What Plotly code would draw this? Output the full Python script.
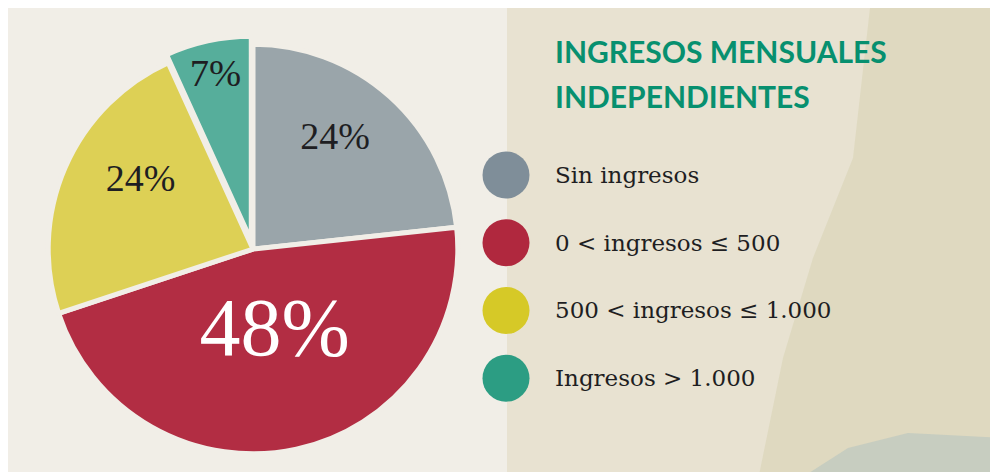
import plotly.graph_objects as go

categories = ["Sin ingresos", "0 < ingresos ≤ 500", "500 < ingresos ≤ 1.000", "Ingresos > 1.000"]
values = [24, 48, 24, 7]
labels_text = ["24%", "48%", "24%", "7%"]
pie_colors = ["#9aa5aa", "#b22d43", "#ddd055", "#56ae9b"]
legend_colors = ["#7f8e99", "#b0283e", "#d6c927", "#2c9d83"]
title_lines = ["INGRESOS MENSUALES", "INDEPENDIENTES"]

W, H = 998, 472
BG = "#f1eee7"
fig = go.Figure()

# label glyph sizes and line-box sizes (the empty second line lifts each label a little)
label_sizes = [38, 82, 38, 40]
line_sizes = [40, 48, 40, 12]
templates = [
    f"<span style='font-size:{s}px'>%{{text}}</span><br><span style='font-size:1px'>&nbsp;</span>"
    for s in label_sizes
]

fig.add_trace(go.Pie(
    labels=categories, values=values, text=labels_text,
    texttemplate=templates, textinfo="text",
    sort=False, direction="clockwise", rotation=0,
    marker=dict(colors=pie_colors, line=dict(color=BG, width=5)),
    pull=[0, 0, 0, 0.04],
    textposition="inside", insidetextorientation="horizontal",
    textfont=dict(family="Liberation Serif", size=line_sizes,
                  color=["#1e1e22", "#ffffff", "#1e1e22", "#1e1e22"]),
    domain=dict(x=[0.0321, 0.4589], y=[0.0381, 0.9407]),
    showlegend=False, hoverinfo="label+text",
))

# legend markers
fig.add_trace(go.Scatter(
    x=[0] * len(categories), y=categories, mode="markers",
    marker=dict(size=47, color=legend_colors, line=dict(width=0)),
    xaxis="x", yaxis="y", showlegend=False, hoverinfo="y",
))

for cat in categories:
    fig.add_annotation(x=0, y=cat, xref="x", yref="y", text=cat, showarrow=False,
                       xanchor="left", yanchor="middle", xshift=47,
                       font=dict(family="DejaVu Serif", size=23, color="#1e1e22"))

for i, line in enumerate(title_lines):
    fig.add_annotation(x=545 / W, y=1 - (23 + 45 * i) / H, xref="paper", yref="paper",
                       text="<b>" + line + "</b>", showarrow=False,
                       xanchor="left", yanchor="top",
                       font=dict(family="Lato", size=30, color="#07906f"))

shapes = [
    dict(type="rect", xref="paper", yref="paper", x0=499 / W, x1=1, y0=0, y1=1,
         fillcolor="#e8e2d1", line=dict(width=0), layer="below"),
    dict(type="path", xref="paper", yref="paper",
         path=f"M {862/W} 1 L {845/W} {1-150/H} L {805/W} {1-250/H} L {775/W} {1-350/H} L {750/W} 0 L 1 0 L 1 1 Z",
         fillcolor="#dcd7bc", opacity=0.8, line=dict(width=0), layer="below"),
    dict(type="path", xref="paper", yref="paper",
         path=f"M {790/W} 0 L {840/W} {1-440/H} L {900/W} {1-425/H} L 1 {1-430/H} L 1 0 Z",
         fillcolor="#b3c3c0", opacity=0.55, line=dict(width=0), layer="below"),
]

fig.update_layout(
    width=W, height=H, margin=dict(l=0, r=0, t=0, b=0),
    paper_bgcolor=BG, plot_bgcolor="rgba(0,0,0,0)",
    shapes=shapes,
    xaxis=dict(domain=[0.449, 0.549], range=[-1, 1], visible=False, fixedrange=True),
    yaxis=dict(domain=[0.144, 0.718], type="category", categoryarray=categories,
               range=[len(categories) - 0.5, -0.5], visible=False, fixedrange=True),
)

fig.write_html("out.html")
